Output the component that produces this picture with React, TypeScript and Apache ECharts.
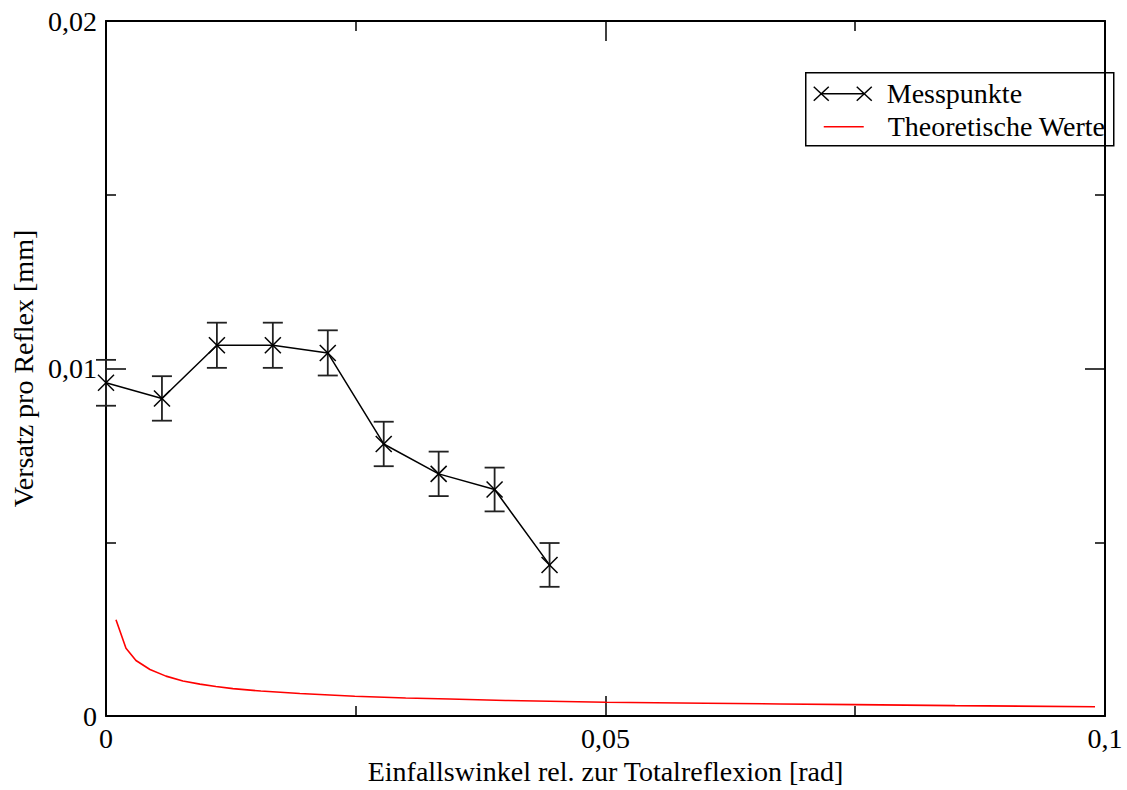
import React, { useEffect, useRef } from "react";
import * as echarts from "echarts";

// Messpunkte (measured points)
const messX = [0, 0.0056, 0.0111, 0.0167, 0.0222, 0.0278, 0.0333, 0.0389, 0.0444];
const messY = [0.00959, 0.00914, 0.01067, 0.01067, 0.01045, 0.00783, 0.00697, 0.00652, 0.00435];
const messErr = [0.00066, 0.00064, 0.00065, 0.00065, 0.00065, 0.00064, 0.00064, 0.00063, 0.00063];

// Theoretische Werte (theory curve)
const theoX = [0.001, 0.002, 0.003, 0.0044, 0.006, 0.0077, 0.0094, 0.011, 0.0127, 0.0155, 0.0194, 0.0249, 0.03, 0.0344, 0.04, 0.05, 0.06, 0.0675, 0.075, 0.085, 0.099];
const theoY = [0.00277, 0.00195, 0.0016, 0.00134, 0.00115, 0.00101, 0.00092, 0.00085, 0.00079, 0.00072, 0.00065, 0.00057, 0.00052, 0.00049, 0.00045, 0.0004, 0.00037, 0.00035, 0.00033, 0.0003, 0.00027];

const xTickLabels: Record<string, string> = { "0": "0", "0.05": "0,05", "0.1": "0,1" };
const yTickLabels: Record<string, string> = { "0": "0", "0.01": "0,01", "0.02": "0,02" };

const FONT = "Liberation Serif";
const FS = 28;

export default function App() {
  const ref = useRef<HTMLDivElement>(null);
  useEffect(() => {
    if (!ref.current) return;
    const chart = echarts.init(ref.current, null, { renderer: "svg" });
    const fmt = (map: Record<string, string>) => (v: number) => {
      const k = String(Math.round(v * 10000) / 10000);
      return map[k] ?? k.replace(".", ",");
    };
    const axisCommon = {
      type: "value" as const,
      axisLine: { show: true, onZero: false, lineStyle: { color: "#000", width: 2 } },
      axisTick: { show: true, inside: true, length: 20, lineStyle: { color: "#000", width: 1.5 } },
      minorTick: { show: true, splitNumber: 2, length: 10, lineStyle: { color: "#000", width: 1.5 } },
      splitLine: { show: false },
      minorSplitLine: { show: false },
    };
    const errData = messX.map((x, i) => [x, messY[i], messErr[i]]);
    chart.setOption({
      animation: false,
      backgroundColor: "#fff",
      textStyle: { fontFamily: FONT },
      grid: { left: 106, right: 22, top: 21, bottom: 70, containLabel: false },
      xAxis: [
        {
          ...axisCommon,
          position: "bottom",
          min: 0,
          max: 0.1,
          interval: 0.05,
          name: "Einfallswinkel rel. zur Totalreflexion [rad]",
          nameLocation: "middle",
          nameGap: 38,
          nameTextStyle: { fontFamily: FONT, fontSize: FS, color: "#000" },
          axisLabel: { show: true, margin: 8, fontFamily: FONT, fontSize: FS, color: "#000", formatter: fmt(xTickLabels) },
        },
        {
          ...axisCommon,
          position: "top",
          min: 0,
          max: 0.1,
          interval: 0.05,
          axisLabel: { show: false },
        },
      ],
      yAxis: [
        {
          ...axisCommon,
          position: "left",
          min: 0,
          max: 0.02,
          interval: 0.01,
          name: "Versatz pro Reflex [mm]",
          nameLocation: "middle",
          nameGap: 68,
          nameRotate: 90,
          nameTextStyle: { fontFamily: FONT, fontSize: FS, color: "#000" },
          axisLabel: { show: true, margin: 9, fontFamily: FONT, fontSize: FS, color: "#000", formatter: fmt(yTickLabels) },
        },
        {
          ...axisCommon,
          position: "right",
          min: 0,
          max: 0.02,
          interval: 0.01,
          axisLabel: { show: false },
        },
      ],
      series: [
        {
          name: "Theoretische Werte",
          type: "line",
          data: theoX.map((x, i) => [x, theoY[i]]),
          showSymbol: false,
          symbol: "none",
          lineStyle: { color: "#ff0000", width: 1.6 },
          z: 3,
        },
        {
          name: "Messpunkte",
          type: "line",
          data: messX.map((x, i) => [x, messY[i]]),
          symbol: "none",
          lineStyle: { color: "#000", width: 1.5 },
          z: 4,
        },
        {
          name: "Fehlerbalken",
          type: "custom",
          clip: false,
          z: 5,
          data: errData,
          renderItem: (params: any, api: any) => {
            const x = api.value(0);
            const y = api.value(1);
            const e = api.value(2);
            const p = api.coord([x, y]);
            const hi = api.coord([x, y + e]);
            const lo = api.coord([x, y - e]);
            const st = { stroke: "#222", lineWidth: 1.8 };
            const mk = { stroke: "#000", lineWidth: 1.5 };
            const cw = 10;
            const m = 8;
            return {
              type: "group",
              children: [
                { type: "line", shape: { x1: p[0], y1: hi[1], x2: p[0], y2: lo[1] }, style: st },
                { type: "line", shape: { x1: p[0] - cw, y1: hi[1], x2: p[0] + cw, y2: hi[1] }, style: st },
                { type: "line", shape: { x1: p[0] - cw, y1: lo[1], x2: p[0] + cw, y2: lo[1] }, style: st },
                { type: "line", shape: { x1: p[0] - m, y1: p[1] - m, x2: p[0] + m, y2: p[1] + m }, style: mk },
                { type: "line", shape: { x1: p[0] - m, y1: p[1] + m, x2: p[0] + m, y2: p[1] - m }, style: mk },
              ],
            };
          },
        },
      ],
      graphic: [
        {
          type: "group",
          left: 805,
          top: 72,
          children: [
            { type: "rect", shape: { x: 0, y: 0, width: 308, height: 73 }, style: { fill: "#fff", stroke: "#000", lineWidth: 1.5 } },
            { type: "line", shape: { x1: 15, y1: 21, x2: 58, y2: 21 }, style: { stroke: "#000", lineWidth: 1.5 } },
            { type: "line", shape: { x1: 8, y1: 14, x2: 23, y2: 28 }, style: { stroke: "#000", lineWidth: 1.5 } },
            { type: "line", shape: { x1: 8, y1: 28, x2: 23, y2: 14 }, style: { stroke: "#000", lineWidth: 1.5 } },
            { type: "line", shape: { x1: 51, y1: 14, x2: 66, y2: 28 }, style: { stroke: "#000", lineWidth: 1.5 } },
            { type: "line", shape: { x1: 51, y1: 28, x2: 66, y2: 14 }, style: { stroke: "#000", lineWidth: 1.5 } },
            { type: "text", x: 81, y: 21, style: { text: "Messpunkte", fontFamily: FONT, fontSize: FS, fill: "#000", verticalAlign: "middle", align: "left" } },
            { type: "line", shape: { x1: 18, y1: 54, x2: 58, y2: 54 }, style: { stroke: "#ff0000", lineWidth: 1.5 } },
            { type: "text", x: 82, y: 54, style: { text: "Theoretische Werte", fontFamily: FONT, fontSize: FS, fill: "#000", verticalAlign: "middle", align: "left" } },
          ],
        },
      ],
    });
    return () => chart.dispose();
  }, []);
  return (
    <div
      ref={ref}
      style={{ position: "fixed", left: 0, top: 0, width: 1127, height: 790, background: "#fff" }}
    />
  );
}
